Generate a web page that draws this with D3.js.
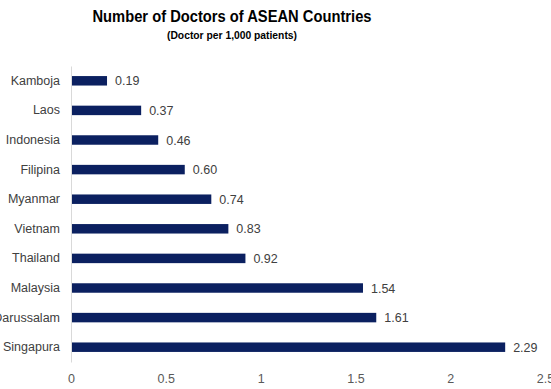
<!DOCTYPE html>
<html>
<head>
<meta charset="utf-8">
<script src="https://cdn.jsdelivr.net/npm/d3@7"></script>
<style>
  html, body { margin: 0; padding: 0; background: #fff; }
  svg { display: block; }
</style>
</head>
<body>
<svg id="chart" width="551" height="389"></svg>
<script>
// Doctors per 1,000 patients, top to bottom
const countries = ["Kamboja", "Laos", "Indonesia", "Filipina", "Myanmar", "Vietnam", "Thailand", "Malaysia", "Darussalam", "Singapura"];
const doctors = [0.19, 0.37, 0.46, 0.60, 0.74, 0.83, 0.92, 1.54, 1.61, 2.29];
const xTicks = [0, 0.5, 1, 1.5, 2, 2.5];

const svg = d3.select("#chart");
const font = "'Liberation Sans', Arial, sans-serif";

const x = d3.scaleLinear().domain([0, 2.5]).range([71, 545]);
const y = d3.scaleBand().domain(countries).range([66, 362]).paddingInner(0.68).paddingOuter(0.34);

// Titles
svg.append("text")
  .attr("x", 232).attr("y", 22)
  .attr("text-anchor", "middle")
  .attr("font-family", font).attr("font-weight", "bold").attr("font-size", 16.5)
  .attr("textLength", 279).attr("lengthAdjust", "spacingAndGlyphs")
  .attr("fill", "#000")
  .text("Number of Doctors of ASEAN Countries");
svg.append("text")
  .attr("x", 232).attr("y", 39)
  .attr("text-anchor", "middle")
  .attr("font-family", font).attr("font-weight", "bold").attr("font-size", 10)
  .attr("textLength", 130).attr("lengthAdjust", "spacingAndGlyphs")
  .attr("fill", "#000")
  .text("(Doctor per 1,000 patients)");

// Bars
svg.append("g").selectAll("rect")
  .data(countries)
  .join("rect")
  .attr("x", x(0))
  .attr("y", d => y(d))
  .attr("width", (d, i) => x(doctors[i]) - x(0))
  .attr("height", y.bandwidth())
  .attr("fill", "#0b2060");

// Value labels
svg.append("g").selectAll("text")
  .data(countries)
  .join("text")
  .attr("x", (d, i) => x(doctors[i]) + 8)
  .attr("y", d => y(d) + y.bandwidth() / 2)
  .attr("dy", "0.36em")
  .attr("font-family", font).attr("font-size", 12.5)
  .attr("fill", "#404040")
  .text((d, i) => doctors[i].toFixed(2));

// Category axis
const yAxis = svg.append("g")
  .attr("transform", `translate(${x(0)},0)`)
  .call(d3.axisLeft(y).tickSize(0).tickPadding(11));
yAxis.select(".domain").attr("stroke", "#d9d9d9").attr("stroke-width", 1);
yAxis.selectAll("text")
  .attr("font-family", font).attr("font-size", 12.5).attr("fill", "#404040");

// Value axis (labels only)
const xAxis = svg.append("g")
  .attr("transform", "translate(0,362)")
  .call(d3.axisBottom(x).tickValues(xTicks).tickFormat(d3.format("")).tickSize(0).tickPadding(12));
xAxis.select(".domain").remove();
xAxis.selectAll("text")
  .attr("font-family", font).attr("font-size", 12.5).attr("fill", "#595959");
</script>
</body>
</html>
